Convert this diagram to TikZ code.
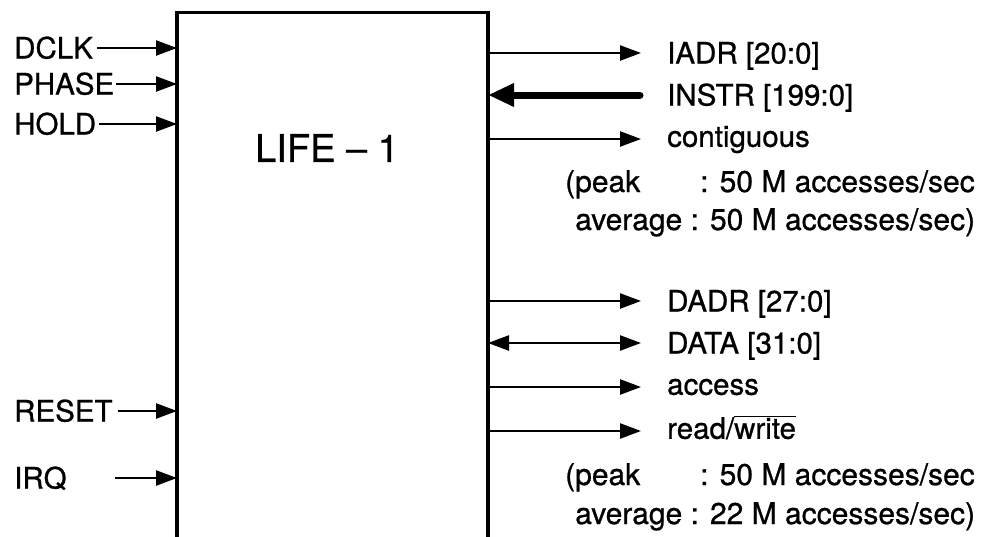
\documentclass[tikz,border=0pt]{standalone}
\usepackage{fontspec}
\setmainfont[FakeBold=0.8]{TeX Gyre Heros}
\usetikzlibrary{arrows.meta}
\begin{document}
\begin{tikzpicture}[x=1pt,y=-1pt,
  lbl/.style={font=\fontsize{29.5}{34}\selectfont, inner sep=0pt, anchor=west, text height=21pt, text depth=0pt},
  lblx/.style={lbl, text height=15.5pt},
  note/.style={font=\fontsize{30}{34}\selectfont, inner sep=0pt, anchor=base west},
  sig/.style={line width=2.4pt, -{Triangle[length=21pt,width=15pt]}},
  bidir/.style={line width=2.4pt, {Triangle[length=21pt,width=15pt]}-{Triangle[length=21pt,width=15pt]}},
  wide/.style={line width=7pt, line cap=round, {Triangle[length=26pt,width=22pt]}-},
  boxline/.style={line width=3.3pt}]
\useasboundingbox (0,0) rectangle (993,536);
\coordinate (boxL) at (177,0);
\coordinate (boxR) at (488,0);
\draw[boxline] (177,540) -- (177,12.5) -- (488,12.5) -- (488,540);
\node[font=\fontsize{38}{42}\selectfont, inner sep=0pt] (life) at (327,148) {LIFE – 1};
% left inputs
\node[lbl] (dclk) at (14,48) {DCLK};
\node[lbl] (phase) at (14,84) {PHASE};
\node[lbl] (hold) at (14,124) {HOLD};
\node[lbl] (reset) at (14,411) {RESET};
\node[lbl] (irq) at (14,478) {IRQ};
\coordinate (irqs) at (115,478);
\draw[sig] ([xshift=4pt]dclk.east) -- (dclk -| boxL);
\draw[sig] ([xshift=2pt]phase.east) -- (phase -| boxL);
\draw[sig] ([xshift=3pt]hold.east) -- (hold -| boxL);
\draw[sig] ([xshift=5pt]reset.east) -- (reset -| boxL);
\draw[sig] (irqs) -- (irqs -| boxL);
% right side, instruction port
\node[lbl] (iadr) at (667,53) {IADR [20:0]};
\node[lbl] (instr) at (667,95) {INSTR [199:0]};
\node[lblx] (contig) at (667,139) {contiguous};
\draw[sig] (iadr -| boxR) -- ([xshift=-26pt]iadr.west);
\draw[wide] (instr -| boxR) -- ([xshift=-27pt]instr.west);
\draw[sig] (contig -| boxR) -- ([xshift=-26pt]contig.west);
\node[note] (n1a) at (565,192) {(peak\hspace{60pt}: 50 M accesses/sec};
\node[note] (n1b) at (575,230) {average : 50 M accesses/sec)};
% right side, data port
\node[lbl] (dadr) at (667,301) {DADR [27:0]};
\node[lbl] (data) at (667,343) {DATA [31:0]};
\node[lblx] (access) at (667,387) {access};
\node[lblx] (rw) at (667,431) {read/$\overline{\mbox{write}}$};
\draw[sig] (dadr -| boxR) -- ([xshift=-26pt]dadr.west);
\draw[bidir] (data -| boxR) -- ([xshift=-26pt]data.west);
\draw[sig] (access -| boxR) -- ([xshift=-26pt]access.west);
\draw[sig] (rw -| boxR) -- ([xshift=-26pt]rw.west);
\node[note] (n2a) at (565,485) {(peak\hspace{60pt}: 50 M accesses/sec};
\node[note] (n2b) at (575,524) {average : 22 M accesses/sec)};
\end{tikzpicture}
\end{document}
